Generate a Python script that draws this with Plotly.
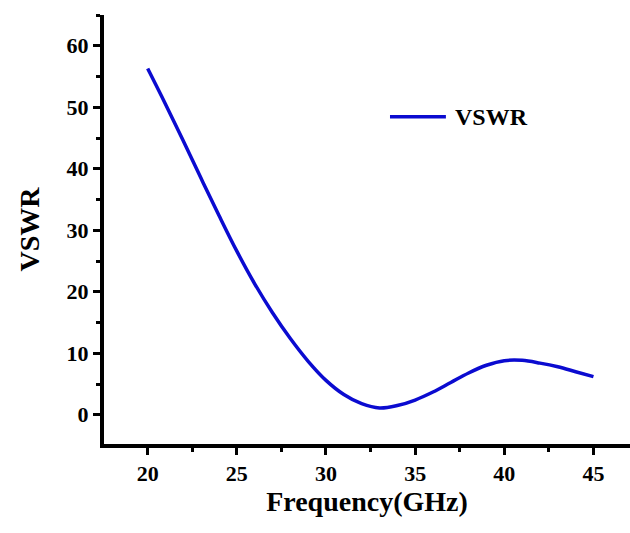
import plotly.graph_objects as go

freq = [20, 21, 22, 23, 24, 25, 26, 27, 28, 29, 30, 31, 32, 33, 34, 35,
        36, 37, 38, 39, 40, 41, 42, 43, 44, 45]
vswr = [56.3, 50.5, 44.5, 38.4, 32.4, 26.6, 21.3, 16.6, 12.4, 8.7, 5.6, 3.3,
        1.8, 1.1, 1.5, 2.4, 3.7, 5.25, 6.8, 8.05, 8.8, 8.85, 8.4, 7.8, 7.0, 6.2]

x_ticks = [20, 25, 30, 35, 40, 45]
y_ticks = [0, 10, 20, 30, 40, 50, 60]

font_family = "Liberation Serif"
blue = "#0b0bd0"

fig = go.Figure()
fig.add_trace(go.Scatter(
    x=freq, y=vswr, mode="lines", name="VSWR", showlegend=False,
    line=dict(color=blue, width=3.5, shape="spline", smoothing=1.0),
))

axis_common = dict(
    showline=True, linecolor="black",
    ticks="outside", ticklen=7, tickwidth=3, tickcolor="black",
    showgrid=False, zeroline=False, mirror=False, automargin=False,
    tickfont=dict(family=font_family, size=22, color="black"),
    minor=dict(ticks="outside", ticklen=4, tickwidth=3, tickcolor="black"),
)

fig.update_xaxes(
    range=[17.55, 47.05], tickvals=x_ticks,
    ticktext=["<b>%d</b>" % v for v in x_ticks],
    linewidth=3.5, minor_dtick=2.5, minor_tick0=17.5,
    title=dict(text="<b>Frequency(GHz)</b>",
               font=dict(family=font_family, size=28, color="black"), standoff=7),
    **axis_common,
)
fig.update_yaxes(
    range=[-4.75, 65.0], tickvals=y_ticks,
    ticktext=["<b>%d</b>" % v for v in y_ticks],
    linewidth=4, minor_dtick=5, minor_tick0=-5,
    title=dict(text="<b>VSWR</b>",
               font=dict(family=font_family, size=28, color="black"), standoff=20),
    **axis_common,
)

# legend sample drawn as in the original figure
fig.add_shape(type="line", xref="paper", yref="paper",
              x0=0.5437, x1=0.650, y0=0.763, y1=0.763,
              line=dict(color=blue, width=3.5))
fig.add_annotation(xref="paper", yref="paper", x=0.663, y=0.763,
                   xanchor="left", yanchor="middle", showarrow=False,
                   text="<b>VSWR</b>",
                   font=dict(family=font_family, size=24, color="black"))

fig.update_layout(
    width=630, height=533,
    margin=dict(l=104, r=0, t=15, b=89),
    plot_bgcolor="white", paper_bgcolor="white",
    showlegend=False,
)

# drop the default 8px body margin so the figure sits at the page corner
fig.write_html("out.html", config={"displayModeBar": False},
               post_script="document.body.style.margin='0';document.body.style.overflow='hidden';")
